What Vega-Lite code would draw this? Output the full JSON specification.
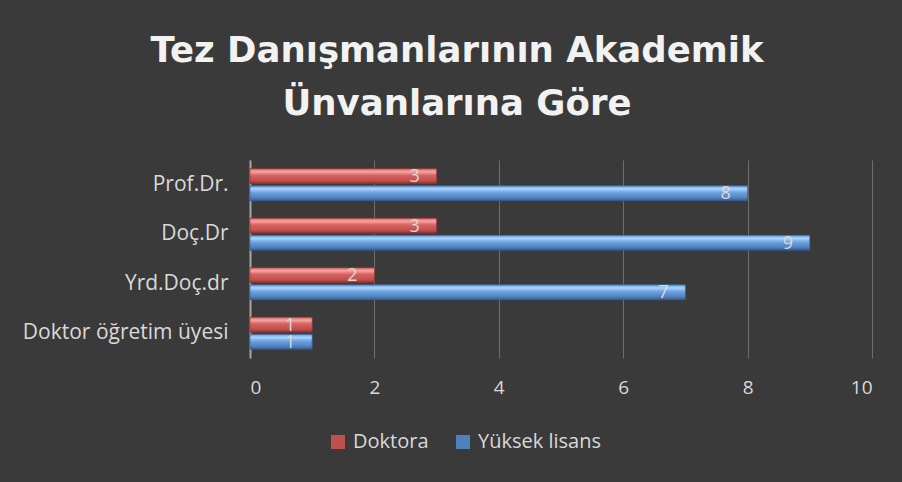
{
  "$schema": "https://vega.github.io/schema/vega-lite/v6.json",
  "width": 622,
  "height": 198,
  "autosize": {"type": "none"},
  "padding": {"left": 250, "top": 160, "right": 30, "bottom": 124},
  "background": "#3a3a3a",
  "title": {
    "text": ["Tez Danışmanlarının Akademik", "Ünvanlarına Göre"],
    "font": "DejaVu Sans",
    "fontWeight": "bold",
    "fontSize": 35.5,
    "lineHeight": 53,
    "color": "#f2f2f2",
    "anchor": "middle",
    "frame": "group",
    "dx": -104,
    "offset": 38
  },
  "data": {
    "values": [
      {"unvan": "Prof.Dr.", "series": "Doktora", "value": 3},
      {"unvan": "Prof.Dr.", "series": "Yüksek lisans", "value": 8},
      {"unvan": "Doç.Dr", "series": "Doktora", "value": 3},
      {"unvan": "Doç.Dr", "series": "Yüksek lisans", "value": 9},
      {"unvan": "Yrd.Doç.dr", "series": "Doktora", "value": 2},
      {"unvan": "Yrd.Doç.dr", "series": "Yüksek lisans", "value": 7},
      {"unvan": "Doktor öğretim üyesi", "series": "Doktora", "value": 1},
      {"unvan": "Doktor öğretim üyesi", "series": "Yüksek lisans", "value": 1}
    ]
  },
  "encoding": {
    "y": {
      "field": "unvan",
      "type": "nominal",
      "sort": ["Prof.Dr.", "Doç.Dr", "Yrd.Doç.dr", "Doktor öğretim üyesi"],
      "scale": {"paddingInner": 0.35, "paddingOuter": 0.175},
      "axis": {
        "title": null,
        "domain": true,
        "domainColor": "#a6a6a6",
        "domainWidth": 2,
        "ticks": false,
        "grid": false,
        "labelPadding": 22,
        "labelLimit": 400,
        "labelFont": "Open Sans",
        "labelFontSize": 21,
        "labelColor": "#d9d9d9"
      }
    },
    "yOffset": {
      "field": "series",
      "type": "nominal",
      "sort": ["Doktora", "Yüksek lisans"],
      "scale": {"paddingInner": 0.12}
    },
    "x": {
      "field": "value",
      "type": "quantitative",
      "scale": {"domain": [0, 10]},
      "axis": {
        "title": null,
        "values": [0, 2, 4, 6, 8, 10],
        "domain": false,
        "ticks": false,
        "grid": true,
        "gridColor": "#6e6e6e",
        "gridWidth": 1,
        "labelPadding": 20,
        "labelFont": "Open Sans",
        "labelFontSize": 19,
        "labelColor": "#d9d9d9"
      }
    }
  },
  "layer": [
    {
      "mark": {"type": "bar"},
      "encoding": {
        "color": {
          "field": "series",
          "type": "nominal",
          "sort": ["Doktora", "Yüksek lisans"],
          "scale": {"domain": ["Doktora", "Yüksek lisans"], "range": ["#c0504d", "#4f81bd"]},
          "legend": {
            "title": null,
            "orient": "none",
            "direction": "horizontal",
            "legendX": 78,
            "legendY": 272,
            "symbolType": "square",
            "symbolSize": 196,
            "symbolOpacity": 1,
            "symbolStrokeWidth": 0,
            "labelFont": "Open Sans",
            "labelFontSize": 20,
            "labelColor": "#d9d9d9",
            "labelOffset": 5,
            "columnPadding": 24
          }
        }
      }
    },
    {
      "transform": [{"filter": "datum.series === 'Doktora'"}],
      "mark": {
        "type": "bar",
        "stroke": "#7d2f2d",
        "strokeWidth": 0.6,
        "fill": {
          "gradient": "linear",
          "x1": 0, "y1": 0, "x2": 0, "y2": 1,
          "stops": [
            {"offset": 0, "color": "#d9625f"},
            {"offset": 0.2, "color": "#f6a6a4"},
            {"offset": 0.45, "color": "#d7625f"},
            {"offset": 0.8, "color": "#c0504d"},
            {"offset": 1, "color": "#8c3331"}
          ]
        }
      }
    },
    {
      "transform": [{"filter": "datum.series === 'Yüksek lisans'"}],
      "mark": {
        "type": "bar",
        "stroke": "#2f5585",
        "strokeWidth": 0.6,
        "fill": {
          "gradient": "linear",
          "x1": 0, "y1": 0, "x2": 0, "y2": 1,
          "stops": [
            {"offset": 0, "color": "#5d95d8"},
            {"offset": 0.2, "color": "#aad6ff"},
            {"offset": 0.45, "color": "#6fa2df"},
            {"offset": 0.8, "color": "#4f81bd"},
            {"offset": 1, "color": "#345c8e"}
          ]
        }
      }
    },
    {
      "mark": {
        "type": "text",
        "align": "center",
        "baseline": "middle",
        "dx": -22,
        "dy": 1,
        "font": "Open Sans",
        "fontSize": 18,
        "color": "#d9d9d9"
      },
      "encoding": {
        "text": {"field": "value", "type": "quantitative"}
      }
    }
  ],
  "config": {
    "view": {"stroke": null}
  }
}
